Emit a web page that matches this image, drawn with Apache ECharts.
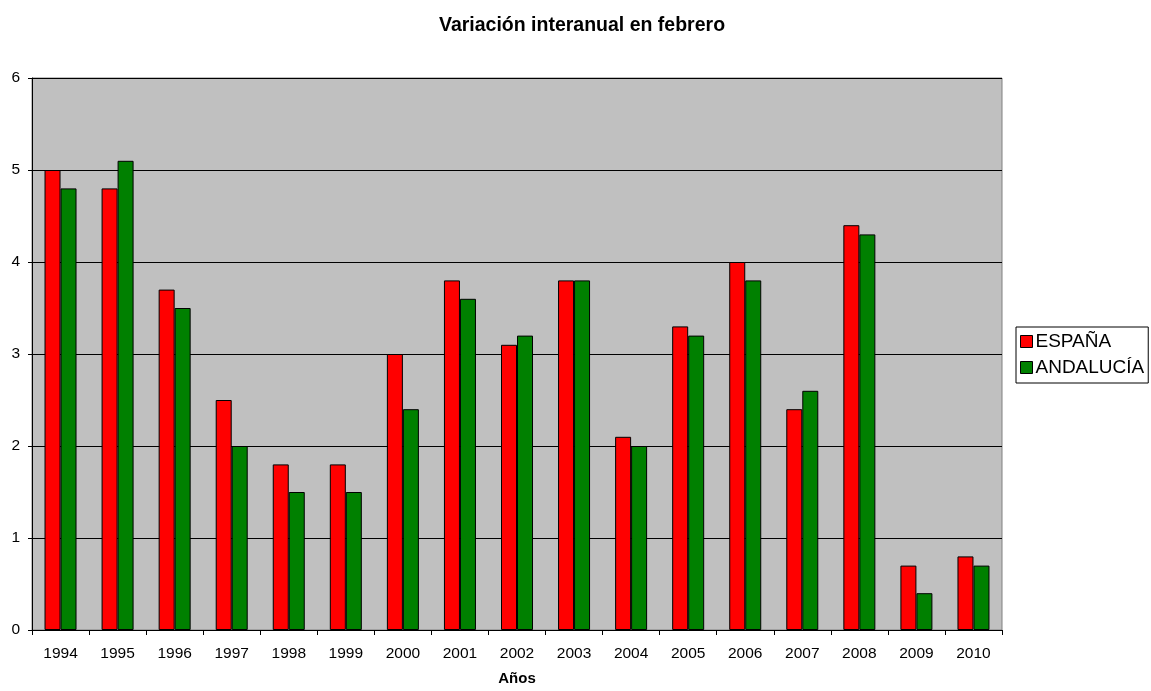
<!DOCTYPE html>
<html>
<head>
<meta charset="utf-8">
<script src="https://cdn.jsdelivr.net/npm/echarts@6/dist/echarts.min.js"></script>
<style>
  html, body { margin: 0; padding: 0; background: #fff; }
  #chart { width: 1151px; height: 691px; }
</style>
</head>
<body>
<div id="chart"></div>
<script>
let years = ["1994", "1995", "1996", "1997", "1998", "1999", "2000", "2001", "2002",
  "2003", "2004", "2005", "2006", "2007", "2008", "2009", "2010"];
let espana = [5.0, 4.8, 3.7, 2.5, 1.8, 1.8, 3.0, 3.8, 3.1, 3.8, 2.1, 3.3, 4.0, 2.4, 4.4, 0.7, 0.8];
let andalucia = [4.8, 5.1, 3.5, 2.0, 1.5, 1.5, 2.4, 3.6, 3.2, 3.8, 2.0, 3.2, 3.8, 2.6, 4.3, 0.4, 0.7];

let myChart = echarts.init(document.getElementById("chart"));
let font = "Liberation Sans, Arial, sans-serif";

let option = {
  animation: false,
  textStyle: { fontFamily: font },
  title: {
    text: "Variación interanual en febrero",
    left: 577,
    textAlign: "center",
    top: 11,
    textStyle: { fontSize: 19.5, fontWeight: "bold", color: "#000", fontFamily: font },
  },
  legend: {
    orient: "vertical",
    left: 1016,
    top: 327,
    padding: [5, 4, 6, 4],
    borderColor: "#000",
    borderWidth: 1,
    itemWidth: 12,
    itemHeight: 12,
    itemGap: 7,
    icon: "rect",
    itemStyle: { borderColor: "#000", borderWidth: 1 },
    textStyle: { fontSize: 19, color: "#000", padding: [0, 0, 0, -2], fontFamily: font },
    data: ["ESPAÑA", "ANDALUCÍA"],
  },
  grid: {
    left: 32,
    right: 149,
    top: 78,
    bottom: 57,
    show: true,
    backgroundColor: "#C0C0C0",
    borderColor: "#808080",
    borderWidth: 1,
  },
  xAxis: {
    type: "category",
    data: years,
    name: "Años",
    nameLocation: "middle",
    nameGap: 41,
    nameTextStyle: { fontSize: 15, fontWeight: "bold", color: "#000" },
    axisLine: { show: true, lineStyle: { color: "#000", width: 1 } },
    axisTick: { show: true, length: 5, lineStyle: { color: "#000" } },
    axisLabel: { fontSize: 15.5, color: "#000", margin: 16 },
  },
  yAxis: {
    type: "value",
    min: 0,
    max: 6,
    interval: 1,
    axisLine: { show: true, lineStyle: { color: "#000", width: 1 } },
    axisTick: { show: true, length: 4, lineStyle: { color: "#000" } },
    axisLabel: { fontSize: 15.5, color: "#000", margin: 12 },
    splitLine: { show: true, lineStyle: { color: "#000", width: 1 } },
  },
  series: [
    {
      name: "ESPAÑA",
      type: "bar",
      data: espana,
      barWidth: 16,
      barGap: "0%",
      itemStyle: { color: "#FF0000", borderColor: "#000", borderWidth: 1 },
    },
    {
      name: "ANDALUCÍA",
      type: "bar",
      data: andalucia,
      barWidth: 16,
      barGap: "0%",
      itemStyle: { color: "#008000", borderColor: "#000", borderWidth: 1 },
    },
  ],
};
myChart.setOption(option);
</script>
</body>
</html>
